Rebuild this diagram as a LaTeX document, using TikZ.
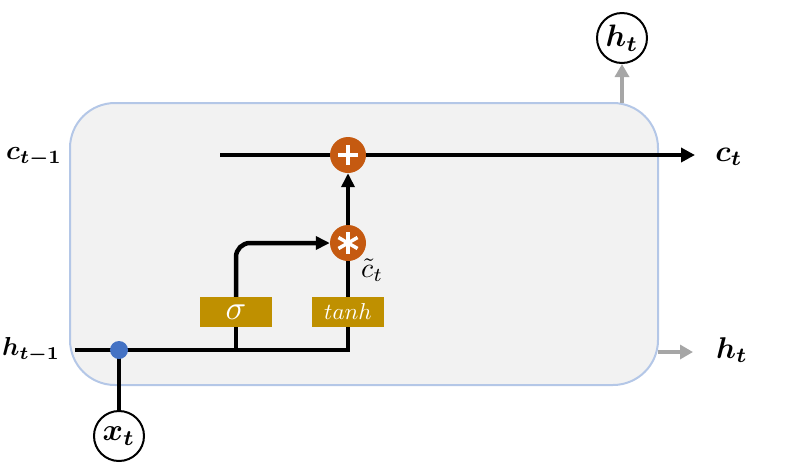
\documentclass[tikz,border=0pt]{standalone}
\usepackage{graphicx}
\usepackage{amsmath,bm}
\usetikzlibrary{arrows.meta}
\definecolor{cellfill}{HTML}{F2F2F2}
\definecolor{cellborder}{HTML}{B4C7E7}
\definecolor{opfill}{HTML}{C55A11}
\definecolor{gatefill}{HTML}{BF9000}
\definecolor{dotblue}{HTML}{4472C4}
\definecolor{arrgray}{HTML}{A6A6A6}
\newcommand{\bigtxt}[2]{\scalebox{#1}{#2}}
\begin{document}
\begin{tikzpicture}[x=1pt,y=-1pt,
  flow/.style={line width=4.5pt,black},
  grayflow/.style={line width=4.5pt,arrgray},
  op/.style={circle,fill=opfill,minimum size=36pt,inner sep=0pt,text=white},
  gate/.style={fill=gatefill,minimum width=72pt,minimum height=30pt,inner sep=0pt,text=white},
  io/.style={circle,draw=black,line width=2pt,fill=white,minimum size=50pt,inner sep=0pt},
  lbl/.style={inner sep=0pt}]
\useasboundingbox (0,0) rectangle (800,467);
\draw[cellborder,fill=cellfill,line width=2pt,rounded corners=45pt] (70,103) rectangle (658,385);
% nodes
\node[op] (plus) at (348,155) {};
\draw[white,line width=3.5pt] ([xshift=-10pt]plus.center) -- ([xshift=10pt]plus.center) ([yshift=-10pt]plus.center) -- ([yshift=10pt]plus.center);
\node[op] (star) at (348,243) {};
\foreach \a in {90,30,-30,-90,-150,150}
  \draw[white,line width=3.5pt] (star.center) -- ++(\a:11pt);
\node[gate] (sig) at (236,312) {\bigtxt{3.4}{$\sigma$}};
\node[gate] (tanh) at (348,312) {\bigtxt{2.3}{$tanh$}};
\node[lbl,anchor=west] (ct1) at (6,157) {\bigtxt{2.7}{$\bm{c_{t-1}}$}};
\node[lbl] (ct) at (729,157) {\bigtxt{3}{$\bm{c_t}$}};
\node[lbl,anchor=west] (ht1) at (2,350) {\bigtxt{2.6}{$\bm{h_{t-1}}$}};
\node[lbl] (hto) at (732,350) {\bigtxt{3}{$\bm{h_t}$}};
\node[lbl,anchor=west] (ctil) at (361,270) {\bigtxt{2.8}{$\tilde{c}_t$}};
\node[io] (xt) at (119,436) {\bigtxt{3.1}{$\bm{x_t}$}};
\node[io] (htc) at (622,38) {\bigtxt{3.1}{$\bm{h_t}$}};
\coordinate (cin) at (220,155);
\coordinate (cout) at (695,155);
\coordinate (hin) at (75,350);
\coordinate (dot) at (119,350);
\coordinate (hend) at (348,350);
\coordinate (sigbot) at (236,350);
\coordinate (gout1) at (658,352);
\coordinate (gout2) at (693,352);
\coordinate (gup1) at (622,103);
% c line
\draw[flow] (cin) -- (plus);
\draw[flow,-{Triangle[length=14pt,width=14pt]}] (plus) -- (cout);
\draw[flow,-{Triangle[length=14pt,width=13pt]}] (star) -- (plus);
% h line
\draw[flow] (hin) -- (hend) -- (tanh.south);
\draw[flow] (tanh.north) -- (star);
\draw[flow] (sigbot) -- (sig.south);
\draw[flow,rounded corners=14pt,-{Triangle[length=14pt,width=13pt]}] (sig.north) -- (236,243) -- (star.west);
% x input
\draw[flow] (xt) -- (dot);
\fill[dotblue] (dot) circle (9pt);
% gray outputs
\draw[grayflow,-{Triangle[length=13pt,width=14pt]}] (gout1) -- (gout2);
\draw[grayflow,-{Triangle[length=13pt,width=14pt]}] (gup1) -- (htc);
\end{tikzpicture}
\end{document}
